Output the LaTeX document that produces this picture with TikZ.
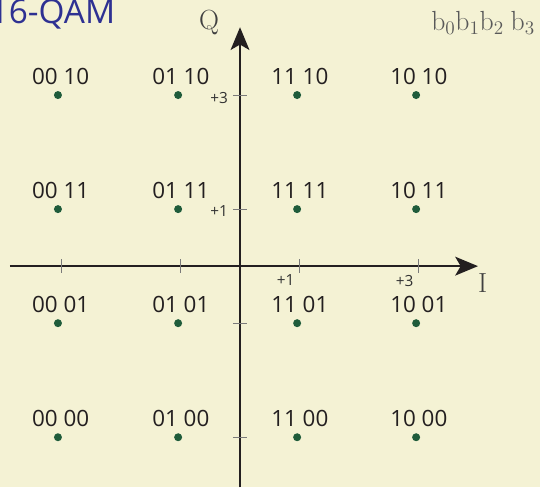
\documentclass[tikz,border=0pt]{standalone}
\usepackage[no-math]{fontspec}
\setmainfont{Open Sans}
\usetikzlibrary{arrows.meta}
\definecolor{qambg}{HTML}{F4F2D4}
\definecolor{qamdot}{HTML}{1F5C3B}
\definecolor{qamaxis}{HTML}{231F20}
\definecolor{qamtick}{HTML}{7A7A7A}
\definecolor{qamblue}{HTML}{2E3192}

\begin{document}
\begin{tikzpicture}[x=44.6pt, y=42.75pt,
  point/.style={circle, fill=qamdot, inner sep=0pt, minimum size=6pt},
  bits/.style={font=\fontsize{16.8}{19}\selectfont, text=qamaxis, inner sep=0pt, anchor=base},
  ticklbl/.style={font=\fontsize{11.5}{13}\selectfont, text=black!80, inner sep=0pt},
  axlbl/.style={font=\fontsize{21}{23}\selectfont, text=black!75, inner sep=0pt},
  axis/.style={qamaxis, line width=2pt, -{Stealth[length=17pt, width=14pt, inset=4pt]}},
  tickmark/.style={qamtick, line width=0.8pt},
]

%% ---- fondo ----
\fill[qambg] (-4.034,-3.877) rectangle (5.042,4.667);
\useasboundingbox (-4.034,-3.877) rectangle (5.042,4.667);

%% ---- ejes I / Q ----
\coordinate (iwest) at (-3.87,0);
\coordinate (ieast) at (4.0,0);
\coordinate (qsouth) at (0,-3.877);
\coordinate (qnorth) at (0,4.19);
\draw[axis] (iwest) -- (ieast);
\draw[axis] (qsouth) -- (qnorth);
\node[axlbl] (ilbl) at (4.08,-0.30) {$\mathrm{I}$};
\node[axlbl] (qlbl) at (-0.52,4.27) {$\mathrm{Q}$};

%% ---- marcas ----
\foreach \t in {-3,-1,1,3} {
  \draw[tickmark] (\t,0) ++(0,-0.12) -- ++(0,0.24);
  \draw[tickmark] (0,\t) ++(-0.12,0) -- ++(0.24,0);
}
\node[ticklbl, anchor=east] (ty1) at (-0.2,0.97) {+1};
\node[ticklbl, anchor=east] (ty3) at (-0.2,2.95) {+3};
\node[ticklbl, anchor=north east] (tx1) at (0.92,-0.15) {+1};
\node[ticklbl, anchor=north east] (tx3) at (2.92,-0.15) {+3};

%% ---- constelacion 16-QAM ----
\foreach \x/\bi in {-3.06/00,-1.04/01,0.96/11,2.96/10}
  \foreach \y/\bq in {3/10,1/11,-1/01,-3/00} {
    \node[point] (p\bi\bq) at (\x,\y) {};
    \node[bits] (l\bi\bq) at ([xshift=2pt,yshift=8pt]p\bi\bq) {\bi~\bq};
  }

%% ---- titulo y orden de bits ----
\node[anchor=base west, inner sep=0pt, text=qamblue,
  font=\fontsize{25}{28}\selectfont] (title) at (-4.21,4.25) {16-QAM};
\node[anchor=base east, inner sep=0pt, text=black!65,
  font=\fontsize{19.5}{22}\selectfont] (order) at (4.96,4.14)
  {$\mathrm{b}_0\mathrm{b}_1\mathrm{b}_2\ \mathrm{b}_3$};

\end{tikzpicture}
\end{document}
